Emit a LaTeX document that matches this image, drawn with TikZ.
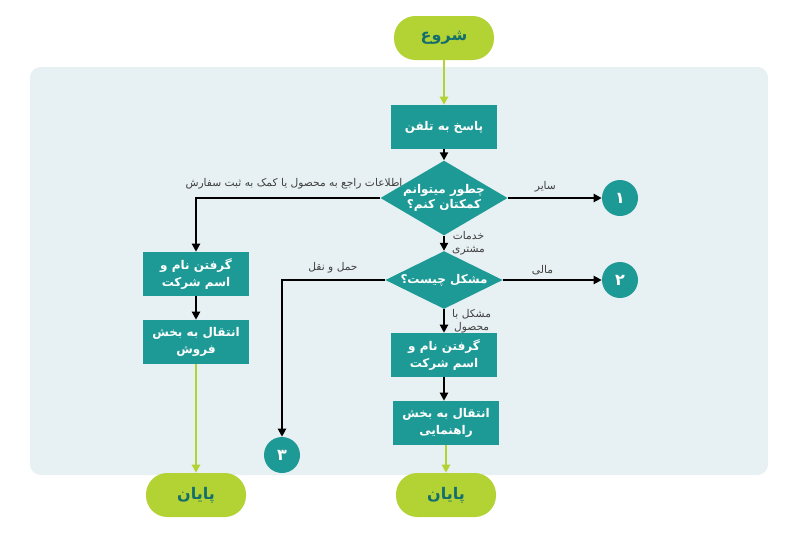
\documentclass[tikz,border=0pt]{standalone}
\usepackage{fontspec}
\usetikzlibrary{shapes.geometric,arrows.meta}
\TeXXeTstate=1
\newfontfamily\arabicfont[Script=Arabic]{DejaVu Sans}
\newcommand{\fa}[1]{{\arabicfont\beginR #1\endR}}
\definecolor{teal1}{HTML}{1E9A96}
\definecolor{lime1}{HTML}{B3D334}
\definecolor{panel}{HTML}{E7F0F2}
\definecolor{darkteal}{HTML}{146E6C}
\begin{document}
\begin{tikzpicture}[x=0.75pt,y=-0.75pt,
 box/.style={fill=teal1,text=white,font=\bfseries\small,minimum width=80pt,minimum height=33pt,align=center,inner sep=1pt},
 dia/.style={diamond,fill=teal1,text=white,font=\bfseries\small,aspect=1.9,inner sep=0pt,align=center},
 term/.style={fill=lime1,text=darkteal,font=\bfseries\large,rounded corners=16pt,minimum width=75pt,minimum height=33pt},
 num/.style={circle,fill=teal1,text=white,font=\bfseries\large,minimum size=27pt,inner sep=0pt},
 arr/.style={line width=1.6pt,-{Triangle[length=6pt,width=6pt]}},
 garr/.style={line width=1.6pt,lime1,-{Triangle[length=6pt,width=6pt]}},
 lbl/.style={font=\footnotesize,text=black!75,align=center}]
\useasboundingbox (0,0) rectangle (800,537);
\fill[panel,rounded corners=8pt] (30,67) rectangle (768,475);
\node[term] (start) at (444,38) {\fa{شروع}};
\node[box] (b0) at (444,127) {\fa{پاسخ به تلفن}};
\node[dia,minimum width=84pt,minimum height=45pt,aspect=1.7] (d1) at (444,198) {\fa{چطور میتوانم}\\\fa{کمکتان کنم؟}};
\node[num] (n1) at (620,198) {\fa{۱}};
\node[dia,minimum width=88pt,minimum height=40pt] (d2) at (444,280) {\fa{مشکل چیست؟}};
\node[num] (n2) at (620,280) {\fa{۲}};
\node[box] (b3) at (444,355) {\fa{گرفتن نام و}\\[2pt]\fa{اسم شرکت}};
\node[box] (b4) at (446,423) {\fa{انتقال به بخش}\\[2pt]\fa{راهنمایی}};
\node[term] (e2) at (446,495) {\fa{پایان}};
\node[box] (l1) at (196,274) {\fa{گرفتن نام و}\\[2pt]\fa{اسم شرکت}};
\node[box] (l2) at (196,342) {\fa{انتقال به بخش}\\[2pt]\fa{فروش}};
\node[term] (e1) at (196,495) {\fa{پایان}};
\node[num] (n3) at (282,455) {\fa{۳}};
\coordinate (c1) at (196,198);
\coordinate (c2) at (282,280);
\draw[garr] (start) -- (b0);
\draw[arr] (b0) -- (d1);
\draw[arr] (d1) -- (n1) node[lbl,pos=0.4,above] {\fa{سایر}};
\draw[arr] (d1) -- (d2) node[lbl,midway,right=2pt] {\fa{خدمات}\\\fa{مشتری}};
\draw[arr] (d2) -- (n2) node[lbl,pos=0.4,above] {\fa{مالی}};
\draw[arr] (d2) -- (b3) node[lbl,midway,right=2pt] {\fa{مشکل با}\\\fa{محصول}};
\draw[arr] (b3.south) -- (b3.south |- b4.north);
\draw[garr] (b4) -- (e2);
\draw[arr] (d1.west) -- (c1) -- (l1);
\node[lbl] (t1) at (294,184) {\fa{اطلاعات راجع به محصول یا کمک به ثبت سفارش}};
\draw[arr] (l1) -- (l2);
\draw[garr] (l2) -- (e1);
\draw[arr] (d2.west) -- (c2) -- (n3);
\node[lbl] (t2) at (333,268) {\fa{حمل و نقل}};
\end{tikzpicture}
\end{document}
